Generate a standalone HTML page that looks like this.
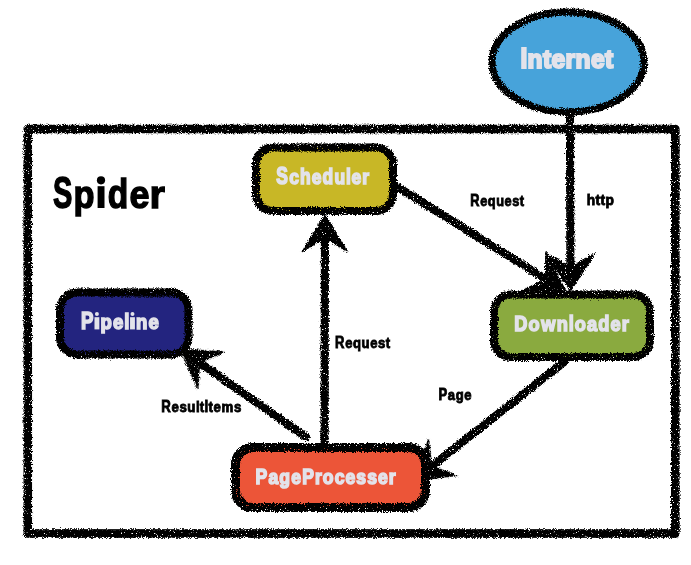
<!DOCTYPE html>
<html><head><meta charset="utf-8">
<style>
html,body{margin:0;padding:0;background:#fff;width:691px;height:565px;overflow:hidden}
svg{display:block}
text{font-family:"Liberation Sans",sans-serif;font-weight:bold;vector-effect:non-scaling-stroke}
</style></head><body>
<svg width="691" height="565" viewBox="0 0 691 565">
<defs>
<filter id="r" x="-10%" y="-10%" width="120%" height="120%">
<feTurbulence type="fractalNoise" baseFrequency="1.3" numOctaves="2" seed="3" result="n"/>
<feDisplacementMap in="SourceGraphic" in2="n" scale="4.5" xChannelSelector="R" yChannelSelector="G" result="d"/>
<feTurbulence type="fractalNoise" baseFrequency="0.75" numOctaves="3" seed="11" result="n2"/>
<feColorMatrix in="n2" type="matrix" values="0 0 0 0 0  0 0 0 0 0  0 0 0 0 0  0 0 0 -10 7.65" result="m"/>
<feComposite in="d" in2="m" operator="in" result="d2"/>
<feComponentTransfer in="d2"><feFuncA type="linear" slope="1.15" intercept="0"/></feComponentTransfer>
</filter>
<filter id="g"><feOffset dx="0" dy="0"/></filter>
</defs>
<rect width="691" height="565" fill="#fff"/>
<g filter="url(#r)" stroke="#000" fill="none" stroke-linecap="round" stroke-linejoin="round">
<rect x="27.8" y="129.1" width="647.5" height="404.4" stroke-width="8.5"/>
<line x1="570" y1="112" x2="570.4" y2="265.0" stroke-width="8"/>
<line x1="395" y1="185.5" x2="543.9" y2="277.8" stroke-width="8"/>
<line x1="324.5" y1="441" x2="324.9" y2="240.0" stroke-width="8"/>
<line x1="306" y1="437" x2="201.3" y2="363.9" stroke-width="8"/>
<line x1="564" y1="362" x2="433.4" y2="464.9" stroke-width="8"/>
</g>
<g filter="url(#r)" fill="#000" stroke="#000" stroke-width="1" stroke-linejoin="round">
<path transform="translate(570.5 291) rotate(179.84)" d="M0 0 L-25 38 L-5 27 L5 27 L25 38 Z"/>
<path transform="translate(566 291.5) rotate(121.79)" d="M0 0 L-23 38 L-5 27 L5 27 L23 38 Z"/>
<path transform="translate(325 214) rotate(0.13)" d="M0 0 L-23 38 L-5 27 L5 27 L23 38 Z"/>
<path transform="translate(180 349) rotate(-55.07)" d="M0 0 L-23 38 L-5 27 L5 27 L23 38 Z"/>
<path transform="translate(413 481) rotate(-128.24)" d="M0 0 L-23 38 L-5 27 L5 27 L23 38 Z"/>
</g>
<g>
<ellipse cx="568" cy="62" rx="76" ry="50" fill="#47A3DA"/>
<rect x="256" y="147.5" width="137" height="63.5" rx="17" fill="#C8B726"/>
<rect x="494" y="294.5" width="156" height="62.5" rx="17" fill="#8AAA3F"/>
<rect x="60" y="292.5" width="128.5" height="62" rx="17" fill="#23247F"/>
<rect x="235.5" y="447.5" width="190" height="60" rx="17" fill="#EC5538"/>
</g>
<g filter="url(#r)" stroke="#000" stroke-width="8" fill="none">
<ellipse cx="568" cy="62" rx="76" ry="50" stroke-width="7"/>
<rect x="256" y="147.5" width="137" height="63.5" rx="17"/>
<rect x="494" y="294.5" width="156" height="62.5" rx="17"/>
<rect x="60" y="292.5" width="128.5" height="62" rx="17"/>
<rect x="235.5" y="447.5" width="190" height="60" rx="17" stroke-width="9"/>
</g>
<g fill="#E3E3EA" stroke="#E3E3EA" stroke-width="1.5" filter="url(#g)" style="vector-effect:non-scaling-stroke">
<g stroke-width="2"><text transform="translate(520.45 67.9) scale(0.877 1.033)" font-size="28">I</text>
<text transform="translate(527.62 67.9) scale(0.877 0.890)" font-size="28">n</text>
<text transform="translate(542.98 67.9) scale(0.877 0.922)" font-size="28">t</text>
<text transform="translate(551.50 67.9) scale(0.877 0.890)" font-size="28">e</text>
<text transform="translate(565.54 67.9) scale(0.877 0.890)" font-size="28">r</text>
<text transform="translate(575.46 67.9) scale(0.877 0.890)" font-size="28">n</text>
<text transform="translate(590.92 67.9) scale(0.877 0.890)" font-size="28">e</text>
<text transform="translate(604.91 67.9) scale(0.877 0.922)" font-size="28">t</text></g>
<text transform="translate(276.34 184.3) scale(0.726 0.987)" font-size="24">S</text>
<text transform="translate(289.17 184.3) scale(0.726 0.829)" font-size="24">c</text>
<text transform="translate(300.00 184.3) scale(0.726 0.937)" font-size="24">h</text>
<text transform="translate(311.77 184.3) scale(0.726 0.829)" font-size="24">e</text>
<text transform="translate(322.56 184.3) scale(0.726 0.937)" font-size="24">d</text>
<text transform="translate(334.41 184.3) scale(0.726 0.829)" font-size="24">u</text>
<text transform="translate(345.92 184.3) scale(0.726 0.937)" font-size="24">l</text>
<text transform="translate(351.58 184.3) scale(0.726 0.829)" font-size="24">e</text>
<text transform="translate(362.23 184.3) scale(0.726 0.829)" font-size="24">r</text>
<text transform="translate(514.13 331.2) scale(0.759 0.957)" font-size="24">D</text>
<text transform="translate(528.60 331.2) scale(0.759 0.821)" font-size="24">o</text>
<text transform="translate(541.13 331.2) scale(0.759 0.821)" font-size="24">w</text>
<text transform="translate(556.71 331.2) scale(0.759 0.821)" font-size="24">n</text>
<text transform="translate(568.73 331.2) scale(0.759 0.908)" font-size="24">l</text>
<text transform="translate(574.69 331.2) scale(0.759 0.821)" font-size="24">o</text>
<text transform="translate(587.03 331.2) scale(0.759 0.821)" font-size="24">a</text>
<text transform="translate(598.27 331.2) scale(0.759 0.908)" font-size="24">d</text>
<text transform="translate(610.61 331.2) scale(0.759 0.821)" font-size="24">e</text>
<text transform="translate(621.74 331.2) scale(0.759 0.821)" font-size="24">r</text>
<text transform="translate(81.00 329.4) scale(0.774 0.969)" font-size="24">P</text>
<rect x="94.49" y="317.20" width="4.85" height="12.20" stroke="none"/>
<circle cx="96.91" cy="313.90" r="2.00" stroke="none"/>
<text transform="translate(100.45 329.4) scale(0.774 0.829)" font-size="24">p</text>
<text transform="translate(112.98 329.4) scale(0.774 0.829)" font-size="24">e</text>
<text transform="translate(124.17 329.4) scale(0.774 0.920)" font-size="24">l</text>
<rect x="130.06" y="317.20" width="4.85" height="12.20" stroke="none"/>
<circle cx="132.48" cy="313.90" r="2.00" stroke="none"/>
<text transform="translate(135.99 329.4) scale(0.774 0.829)" font-size="24">n</text>
<text transform="translate(148.55 329.4) scale(0.774 0.829)" font-size="24">e</text>
<text transform="translate(255.57 484.1) scale(0.732 0.939)" font-size="24">P</text>
<text transform="translate(268.49 484.1) scale(0.732 0.805)" font-size="24">a</text>
<text transform="translate(279.33 484.1) scale(0.732 0.805)" font-size="24">g</text>
<text transform="translate(291.23 484.1) scale(0.732 0.805)" font-size="24">e</text>
<text transform="translate(302.22 484.1) scale(0.732 0.939)" font-size="24">P</text>
<text transform="translate(314.99 484.1) scale(0.732 0.805)" font-size="24">r</text>
<text transform="translate(322.75 484.1) scale(0.732 0.805)" font-size="24">o</text>
<text transform="translate(334.63 484.1) scale(0.732 0.805)" font-size="24">c</text>
<text transform="translate(345.48 484.1) scale(0.732 0.805)" font-size="24">e</text>
<text transform="translate(356.32 484.1) scale(0.732 0.805)" font-size="24">s</text>
<text transform="translate(367.18 484.1) scale(0.732 0.805)" font-size="24">s</text>
<text transform="translate(378.04 484.1) scale(0.732 0.805)" font-size="24">e</text>
<text transform="translate(388.78 484.1) scale(0.732 0.805)" font-size="24">r</text>
</g>
<g fill="#000" stroke="#000" stroke-width="0.8" filter="url(#g)">
<text transform="translate(52.91 208) scale(0.689 1.04)" font-size="42" stroke-width="1.3">S</text>
<text transform="translate(73.58 208) scale(0.819 0.93)" font-size="42" stroke-width="1.3">p</text>
<text transform="translate(107.77 208) scale(0.800 0.98)" font-size="42" stroke-width="1.3">d</text>
<text transform="translate(129.45 208) scale(0.855 0.93)" font-size="42" stroke-width="1.3">e</text>
<text transform="translate(149.53 208) scale(0.946 0.93)" font-size="42" stroke-width="1.3">r</text>
<rect x="97.6" y="186.2" width="6.9" height="21.8" stroke="none"/>
<circle cx="101" cy="180.3" r="4.1" stroke="none"/>
<text transform="translate(470.34 205.6) scale(0.752 0.923)" font-size="17">R</text>
<text transform="translate(480.17 205.6) scale(0.752 0.809)" font-size="17">e</text>
<text transform="translate(487.83 205.6) scale(0.752 0.809)" font-size="17">q</text>
<text transform="translate(496.24 205.6) scale(0.752 0.809)" font-size="17">u</text>
<text transform="translate(504.61 205.6) scale(0.752 0.809)" font-size="17">e</text>
<text transform="translate(512.25 205.6) scale(0.752 0.809)" font-size="17">s</text>
<text transform="translate(519.80 205.6) scale(0.752 0.828)" font-size="17">t</text>
<text transform="translate(586.64 205.3) scale(0.810 0.868)" font-size="17">h</text>
<text transform="translate(595.53 205.3) scale(0.810 0.820)" font-size="17">t</text>
<text transform="translate(600.46 205.3) scale(0.810 0.820)" font-size="17">t</text>
<text transform="translate(605.55 205.3) scale(0.810 0.809)" font-size="17">p</text>
<text transform="translate(335.12 347.9) scale(0.769 0.940)" font-size="17">R</text>
<text transform="translate(345.18 347.9) scale(0.769 0.820)" font-size="17">e</text>
<text transform="translate(353.01 347.9) scale(0.769 0.820)" font-size="17">q</text>
<text transform="translate(361.61 347.9) scale(0.769 0.820)" font-size="17">u</text>
<text transform="translate(370.17 347.9) scale(0.769 0.820)" font-size="17">e</text>
<text transform="translate(377.99 347.9) scale(0.769 0.820)" font-size="17">s</text>
<text transform="translate(385.70 347.9) scale(0.769 0.843)" font-size="17">t</text>
<text transform="translate(161.31 411.6) scale(0.779 0.932)" font-size="17">R</text>
<text transform="translate(171.49 411.6) scale(0.779 0.820)" font-size="17">e</text>
<text transform="translate(179.40 411.6) scale(0.779 0.820)" font-size="17">s</text>
<text transform="translate(187.35 411.6) scale(0.779 0.820)" font-size="17">u</text>
<text transform="translate(195.88 411.6) scale(0.779 0.884)" font-size="17">l</text>
<text transform="translate(199.86 411.6) scale(0.779 0.836)" font-size="17">t</text>
<text transform="translate(204.58 411.6) scale(0.779 0.932)" font-size="17">I</text>
<text transform="translate(208.56 411.6) scale(0.779 0.836)" font-size="17">t</text>
<text transform="translate(213.41 411.6) scale(0.779 0.820)" font-size="17">e</text>
<text transform="translate(221.49 411.6) scale(0.779 0.820)" font-size="17">m</text>
<text transform="translate(233.98 411.6) scale(0.779 0.820)" font-size="17">s</text>
<text transform="translate(438.53 399.6) scale(0.768 0.923)" font-size="17">P</text>
<text transform="translate(447.83 399.6) scale(0.768 0.809)" font-size="17">a</text>
<text transform="translate(455.63 399.6) scale(0.768 0.809)" font-size="17">g</text>
<text transform="translate(464.19 399.6) scale(0.768 0.809)" font-size="17">e</text>
</g>
</svg>
</body></html>
